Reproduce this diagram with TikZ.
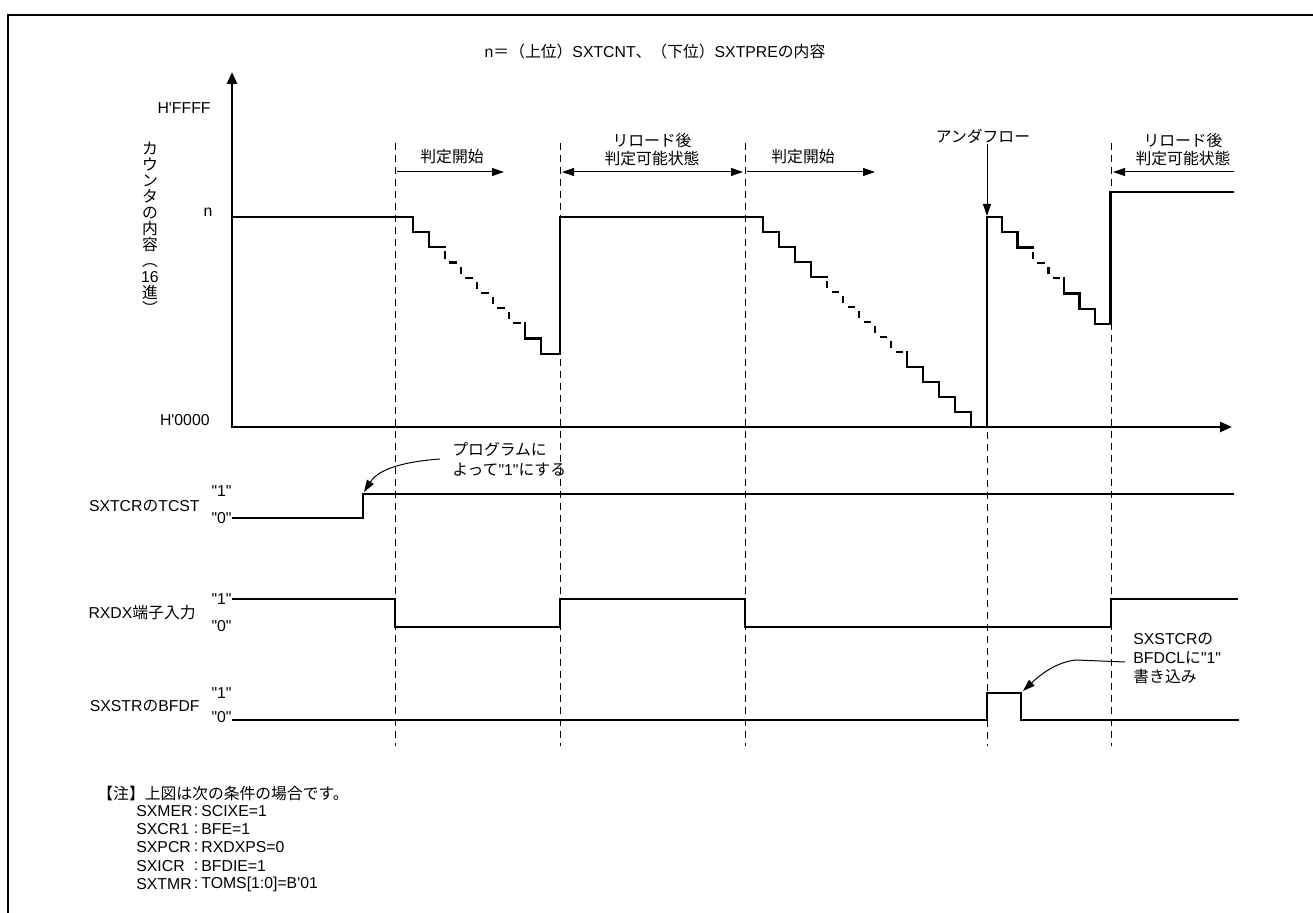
\documentclass[tikz,border=0pt]{standalone}
\usepackage{fontspec}
\setmainfont{Liberation Sans}
\newfontfamily\jpfont{Noto Sans CJK JP}
\newcommand{\jp}[1]{{\jpfont #1}}
\newcommand{\qq}[1]{\textquotedbl#1\textquotedbl}
\usetikzlibrary{arrows.meta}

\begin{document}
\begin{tikzpicture}[x=0.5pt,y=-0.5pt,inner sep=0pt,
  font=\fontsize{7.9}{9.5}\selectfont,
  wave/.style={line width=1.1pt,line cap=rect},
  wavedash/.style={line width=1.1pt,dash pattern=on 3.6pt off 4.2pt,dash phase=-2pt},
  axis/.style={line width=1.2pt,line cap=rect,-{Triangle[length=6pt,width=5pt]}},
  guide/.style={line width=0.5pt,dash pattern=on 3.5pt off 2.5pt},
  note/.style={line width=0.5pt,-{Triangle[length=6pt,width=4pt]}},
  dnote/.style={line width=0.5pt,{Triangle[length=6pt,width=4pt]}-{Triangle[length=6pt,width=4pt]}}]
  \useasboundingbox (0,0) rectangle (1313,913);
  \draw[line width=1pt] (8,913) -- (8,15) -- (1313,15);

  \node (title) at (655,52) {n\jp{＝（上位）}SXTCNT\jp{、（下位）}SXTPRE\jp{の内容}};

  % guide lines
  \foreach \x in {395,560,745,1111}
    \draw[guide] (\x,143) -- (\x,746);
  \draw[guide] (987,432) -- (987,746);

  % counter axes
  \draw[axis] (232,427) -- (232,72);
  \draw[axis] (232,427) -- (1232,427);
  \node[anchor=east] (hffff) at (211,108) {H\textquotesingle FFFF};
  \node (nlab) at (208,212) {n};
  \node[anchor=east] (h0000) at (210,420) {H\textquotesingle 0000};
  \node[align=center,font=\jpfont\fontsize{7.9}{8}\selectfont] (ylab) at (150,228)
    {カ\\ウ\\ン\\タ\\の\\内\\容\\︵\\{\rmfamily 16}\\進\\︶};

  % counter value
  \draw[wave] (232,217) -- (413,217);
  \foreach \i/\st in {0/wave,1/wave,2/wavedash,3/wavedash,4/wavedash,5/wavedash,6/wavedash,7/wave,8/wave}
    \draw[\st] (413+16*\i,217+15.2*\i) -- ++(0,15.2) -- ++(16,0);
  \draw[wave] (557,353.8) -- (560,353.8) -- (560,217) -- (763,217);
  \foreach \i/\st in {0/wave,1/wave,2/wave,3/wave,4/wavedash,5/wavedash,6/wavedash,7/wavedash,8/wavedash,9/wave,10/wave,11/wave,12/wave,13/wave}
    \draw[\st] (763+16*\i,217+15*\i) -- ++(0,15) -- ++(16,0);
  \draw[wave] (987,427) -- (987,217) -- (1002,217);
  \foreach \i/\st in {0/wave,1/wave,2/wavedash,3/wavedash,4/wave,5/wave,6/wave}
    \draw[\st] (1002+15.5*\i,217+15.3*\i) -- ++(0,15.3) -- ++(15.5,0);
  \draw[wave] (1110.5,324.1) -- (1110.5,192) -- (1233,192);

  % period labels
  \node (judge1) at (452,157) {\jp{判定開始}};
  \draw[note] (397,172) -- (504,172);
  \node[align=center,font=\fontsize{7.9}{9}\selectfont] (reload1) at (652,150)
    {\jp{リロード後}\\\jp{判定可能状態}};
  \draw[dnote] (562,172) -- (743,172);
  \node (judge2) at (803,157) {\jp{判定開始}};
  \draw[note] (747,172) -- (875,172);
  \node (uflow) at (983,136) {\jp{アンダフロー}};
  \coordinate (ufpt) at (987,216);
  \draw[note] (uflow.south -| ufpt) -- (ufpt);
  \node[align=center,font=\fontsize{7.9}{9}\selectfont] (reload2) at (1183,150)
    {\jp{リロード後}\\\jp{判定可能状態}};
  \draw[note] (1234,172) -- (1113,172);

  % TCST
  \node[anchor=east] (tcst) at (200,506) {SXTCR\jp{の}TCST};
  \node[anchor=east] (tcst1) at (232,491) {\qq{1}};
  \node[anchor=east] (tcst0) at (232,518) {\qq{0}};
  \draw[wave] (233,518) -- (363,518) -- (363,494) -- (1233,494);
  \coordinate (tcstup) at (364,492);
  \node[align=left,anchor=west,font=\fontsize{7.9}{10}\selectfont] (prog) at (452,459)
    {\jp{プログラムに}\\\jp{よって}\qq{1}\jp{にする}};
  \draw[note] ([xshift=-6]prog.west) .. controls (400,462) and (378,470) .. (tcstup);

  % RXDX
  \node[anchor=east] (rxdx) at (196,613) {RXDX\jp{端子入力}};
  \node[anchor=east] (rxdx1) at (232,599) {\qq{1}};
  \node[anchor=east] (rxdx0) at (232,626) {\qq{0}};
  \draw[wave] (233,599) -- (395,599) -- (395,627) -- (560,627) -- (560,599) -- (745,599)
    -- (745,627) -- (1111,627) -- (1111,599) -- (1237,599);

  % BFDF
  \node[anchor=east] (bfdf) at (200,706) {SXSTR\jp{の}BFDF};
  \node[anchor=east] (bfdf1) at (232,693) {\qq{1}};
  \node[anchor=east] (bfdf0) at (232,717) {\qq{0}};
  \draw[wave] (233,720) -- (987,720) -- (987,693) -- (1021,693) -- (1021,720) -- (1238,720);
  \coordinate (bfdfdn) at (1023,691);
  \node[align=left,anchor=west,font=\fontsize{7.9}{9.5}\selectfont] (bfdcl) at (1133,658)
    {SXSTCR\jp{の}\\BFDCL\jp{に}\qq{1}\\\jp{書き込み}};
  \draw[note] ([xshift=-4,yshift=-2]bfdcl.west) -- (1076,660) .. controls (1056,662) and (1040,675) .. (bfdfdn);

  % conditions
  \node[anchor=west] (cond) at (97,793) {\jp{【注】上図は次の条件の場合です。}};
  \foreach \y/\r/\v [count=\k] in {811/SXMER/SCIXE=1,829/SXCR1/BFE=1,847/SXPCR/RXDXPS=0,866/SXICR/BFDIE=1,884/SXTMR/TOMS[1:0]=B\textquotesingle 01} {
    \node[anchor=west] (reg\k) at (136,\y) {\r};
    \node (colon\k) at (196,\y) {:};
    \node[anchor=west] (val\k) at (201,\y) {\v};
  }
\end{tikzpicture}
\end{document}
